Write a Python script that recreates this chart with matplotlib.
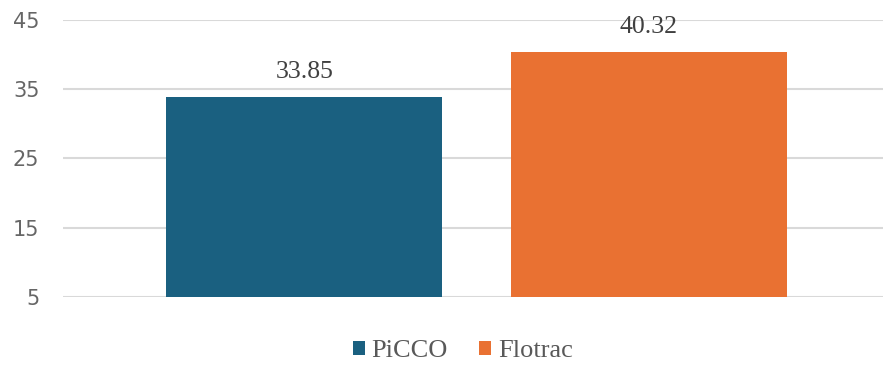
import matplotlib.pyplot as plt

# data
series = ["PiCCO", "Flotrac"]
values = [33.85, 40.32]
colors = ["#1a6080", "#e97132"]
yticks = [5, 15, 25, 35, 45]

fig = plt.figure(figsize=(8.85, 3.66), dpi=100)
ax = fig.add_axes([0.0712, 0.1885, 0.9268, 0.7582])

for i, (name, v, c) in enumerate(zip(series, values, colors)):
    ax.bar(i, v - yticks[0], bottom=yticks[0], width=0.8, color=c, label=name, zorder=3)
    ax.annotate(f"{v:.2f}", (i, v), xytext=(0, 10), textcoords="offset points",
                ha="center", va="bottom", fontsize=18.5, family="Liberation Serif",
                color="#404040")

ax.set_ylim(yticks[0], yticks[-1])
ax.set_xlim(-0.7, 1.68)
ax.set_yticks(yticks)
ax.set_yticklabels([str(t) for t in yticks])
ax.yaxis.grid(True, color="#d9d9d9", linewidth=1.5, zorder=0)
ax.set_xticks([])
for s in ax.spines.values():
    s.set_visible(False)
ax.tick_params(axis="y", length=0, pad=17, labelsize=15, labelcolor="#666666")

leg = fig.legend(loc="center", bbox_to_anchor=(0.523, 0.04), ncol=2, frameon=False,
                 prop={"family": "Liberation Serif", "size": 19},
                 handlelength=0.45, handleheight=0.45, handletextpad=0.25, columnspacing=1.2)
for t in leg.get_texts():
    t.set_color("#595959")

fig.savefig("out.png", dpi=100)
